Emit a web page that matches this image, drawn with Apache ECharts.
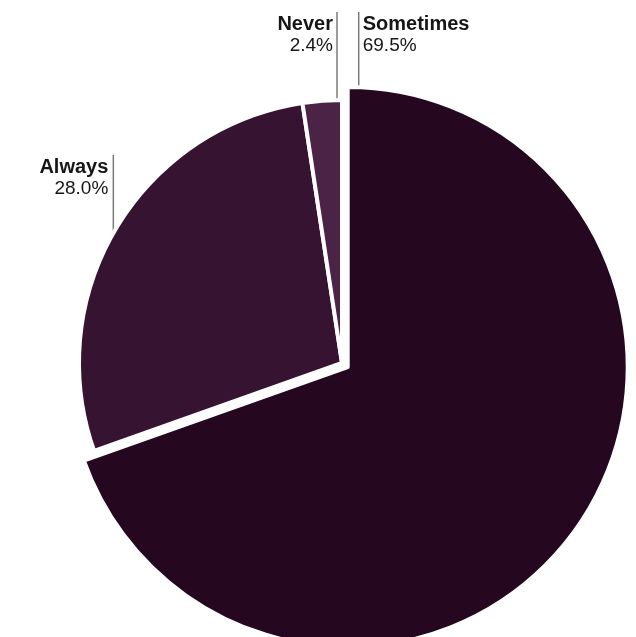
<!DOCTYPE html>
<html>
<head>
<meta charset="utf-8">
<script src="https://cdn.jsdelivr.net/npm/echarts@6/dist/echarts.min.js"></script>
<style>
  html, body { margin: 0; padding: 0; background: #ffffff; }
  #chart { width: 636px; height: 637px; }
</style>
</head>
<body>
<div id="chart"></div>
<script>
// Slices in clockwise order starting from 12 o'clock
const categories = ['Sometimes', 'Always', 'Never'];
const shares = [69.5, 28.0, 2.4];
const colors = ['#25071f', '#361331', '#4a2347'];

// Pie geometry (pixels)
const CX = 342, CY = 363;
const R_IN = 263;      // radius of the regular slices
const R_OUT = 280;     // radius of the highlighted slice
const PULL = 7;        // how far the highlighted slice is pulled out
const HIGHLIGHT = 0;   // index of the highlighted slice

const total = shares.reduce((a, b) => a + b, 0);
// start / end angles (degrees, clockwise from 12 o'clock)
const bounds = [];
let acc = 0;
shares.forEach(v => { const s = acc; acc += v; bounds.push([s / total * 360, acc / total * 360]); });
const rad = d => d * Math.PI / 180;

// the highlighted slice is drawn around a centre moved outward along its bisector
const hiMid = rad((bounds[HIGHLIGHT][0] + bounds[HIGHLIGHT][1]) / 2);
const HX = CX + PULL * Math.sin(hiMid);
const HY = CY - PULL * Math.cos(hiMid);

const FONT = '"Liberation Sans", Arial, Helvetica, sans-serif';
const rich = {
  n: { fontFamily: FONT, fontSize: 20, fontWeight: 'bold', color: '#161616', lineHeight: 22 },
  v: { fontFamily: FONT, fontSize: 19, color: '#161616', lineHeight: 21 }
};

function labelFormatter(p) {
  return '{n|' + p.name + '}\n{v|' + shares[p.dataIndex].toFixed(1) + '%}';
}

const TOP_LABEL_Y = 13, TOP_LINE_Y = 12;
const SIDE_LABEL_Y = 156, SIDE_LINE_Y = 155;

// Leader lines run vertically from the label down to the slice edge
function placeLabel(p) {
  const i = p.dataIndex;
  const name = categories[i];
  if (name === 'Sometimes') {
    const lx = HX + 11;
    const ly = HY - Math.sqrt(R_OUT * R_OUT - (lx - HX) * (lx - HX));
    return { x: lx + 4, y: TOP_LABEL_Y, align: 'left', verticalAlign: 'top',
             labelLinePoints: [[lx, ly], [lx, (ly + TOP_LINE_Y) / 2], [lx, TOP_LINE_Y]] };
  }
  if (name === 'Never') {
    const lx = CX - 5;
    const ly = CY - Math.sqrt(R_IN * R_IN - (lx - CX) * (lx - CX));
    return { x: lx - 4, y: TOP_LABEL_Y, align: 'right', verticalAlign: 'top',
             labelLinePoints: [[lx, ly], [lx, (ly + TOP_LINE_Y) / 2], [lx, TOP_LINE_Y]] };
  }
  // Always: line attaches at the middle of the slice's arc
  const mid = rad((bounds[i][0] + bounds[i][1]) / 2);
  const lx = CX + R_IN * Math.sin(mid) - 3;
  const ly = CY - Math.sqrt(R_IN * R_IN - (lx - CX) * (lx - CX));
  return { x: lx - 5, y: SIDE_LABEL_Y, align: 'right', verticalAlign: 'top',
           labelLinePoints: [[lx, ly], [lx, (ly + SIDE_LINE_Y) / 2], [lx, SIDE_LINE_Y]] };
}

function buildData(visible) {
  return categories.map((name, i) => {
    const on = visible(i);
    return {
      name,
      value: shares[i],
      itemStyle: on
        ? { color: colors[i], borderColor: '#ffffff', borderWidth: 4 }
        : { color: 'rgba(0,0,0,0)', borderWidth: 0 },
      label: { show: on, align: name === 'Sometimes' ? 'left' : 'right' },
      labelLine: { show: on }
    };
  });
}

const common = {
  type: 'pie',
  startAngle: 90,
  clockwise: true,
  avoidLabelOverlap: false,
  silent: true,
  selectedMode: false,
  label: { position: 'outside', formatter: labelFormatter, rich },
  labelLine: { show: true, length: 10, length2: 10,
               lineStyle: { color: '#7a7a7a', width: 1.5 } },
  labelLayout: placeLabel,
  emphasis: { disabled: true }
};

const chart = echarts.init(document.getElementById('chart'), null, { renderer: 'canvas' });
chart.setOption({
  animation: false,
  backgroundColor: '#ffffff',
  series: [
    Object.assign({}, common, {
      center: [CX, CY],
      radius: R_IN,
      data: buildData(i => i !== HIGHLIGHT)
    }),
    Object.assign({}, common, {
      center: [HX, HY],
      radius: R_OUT,
      data: buildData(i => i === HIGHLIGHT)
    })
  ]
});
</script>
</body>
</html>
